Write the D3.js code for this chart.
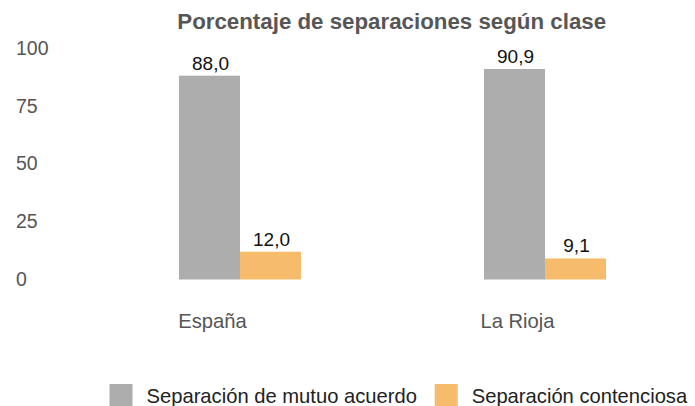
<!DOCTYPE html>
<html>
<head>
<meta charset="utf-8">
<script src="https://cdn.jsdelivr.net/npm/d3@7/dist/d3.min.js"></script>
<style>
  body { margin: 0; background: #fff; }
  text { font-family: 'Liberation Sans', Arial, sans-serif; }
</style>
</head>
<body>
<div id="chart"></div>
<script>
const categories = ['España', 'La Rioja']
const series = ['Separación de mutuo acuerdo', 'Separación contenciosa']
const mutuoAcuerdo = [88.0, 90.9]
const contenciosa = [12.0, 9.1]
const yTicks = [0, 25, 50, 75, 100]
const colors = ['#adadad', '#f7bb6c']

const width = 695
const height = 406

const svg = d3
  .select('#chart')
  .append('svg')
  .attr('width', width)
  .attr('height', height)

const datapoints = categories.map((c, i) => ({
  category: c,
  values: [mutuoAcuerdo[i], contenciosa[i]]
}))

const xPositionScale = d3
  .scaleBand()
  .domain(categories)
  .range([87.5, 697.5])
  .paddingInner(0.6)
  .paddingOuter(0.3)

const xSubScale = d3
  .scaleBand()
  .domain(series)
  .range([0, xPositionScale.bandwidth()])

const yPositionScale = d3.scaleLinear().domain([0, 100]).range([279.5, 47.9])

// title
svg
  .append('text')
  .text('Porcentaje de separaciones según clase')
  .attr('x', 391.7)
  .attr('y', 29.3)
  .attr('text-anchor', 'middle')
  .attr('font-size', 22.3)
  .attr('font-weight', 'bold')
  .attr('fill', '#565656')

// y axis labels only
const yAxis = d3.axisLeft(yPositionScale).tickValues(yTicks).tickSize(0)
const yG = svg
  .append('g')
  .attr('class', 'axis y-axis')
  .attr('transform', 'translate(16,0)')
  .call(yAxis)
yG.select('.domain').remove()
yG.selectAll('text')
  .attr('x', 0)
  .attr('text-anchor', 'start')
  .attr('font-size', 19.5)
  .attr('font-family', "'Liberation Sans', Arial, sans-serif")
  .attr('fill', '#555')

const groups = svg
  .selectAll('.group')
  .data(datapoints)
  .enter()
  .append('g')
  .attr('class', 'group')
  .attr('transform', d => `translate(${xPositionScale(d.category)},0)`)

const bars = groups
  .selectAll('.bar')
  .data(d => d.values.map((v, i) => ({ key: series[i], value: v, i: i })))
  .enter()

bars
  .append('rect')
  .attr('x', d => xSubScale(d.key))
  .attr('y', d => yPositionScale(d.value))
  .attr('width', xSubScale.bandwidth())
  .attr('height', d => yPositionScale(0) - yPositionScale(d.value))
  .attr('fill', d => colors[d.i])

bars
  .append('text')
  .text(d => d3.format('.1f')(d.value).replace('.', ','))
  .attr('x', d => xSubScale(d.key) + xSubScale.bandwidth() / 2 + 1)
  .attr('y', d => yPositionScale(d.value) - 6)
  .attr('text-anchor', 'middle')
  .attr('font-size', 19)
  .attr('fill', '#111')

// category labels
groups
  .append('text')
  .text(d => d.category)
  .attr('x', xSubScale(series[0]) + xSubScale.bandwidth() / 2 + 3)
  .attr('y', 328)
  .attr('text-anchor', 'middle')
  .attr('font-size', 20.2)
  .attr('fill', '#555')

// legend
const legendX = [109.5, 434.7]
const legend = svg
  .selectAll('.legend')
  .data(series)
  .enter()
  .append('g')
  .attr('class', 'legend')
  .attr('transform', (d, i) => `translate(${legendX[i]},384)`)

legend
  .append('rect')
  .attr('width', 23)
  .attr('height', 24)
  .attr('fill', (d, i) => colors[i])

legend
  .append('text')
  .text(d => d)
  .attr('x', 37)
  .attr('y', 19)
  .attr('font-size', 20.2)
  .attr('fill', '#222')
</script>
</body>
</html>
